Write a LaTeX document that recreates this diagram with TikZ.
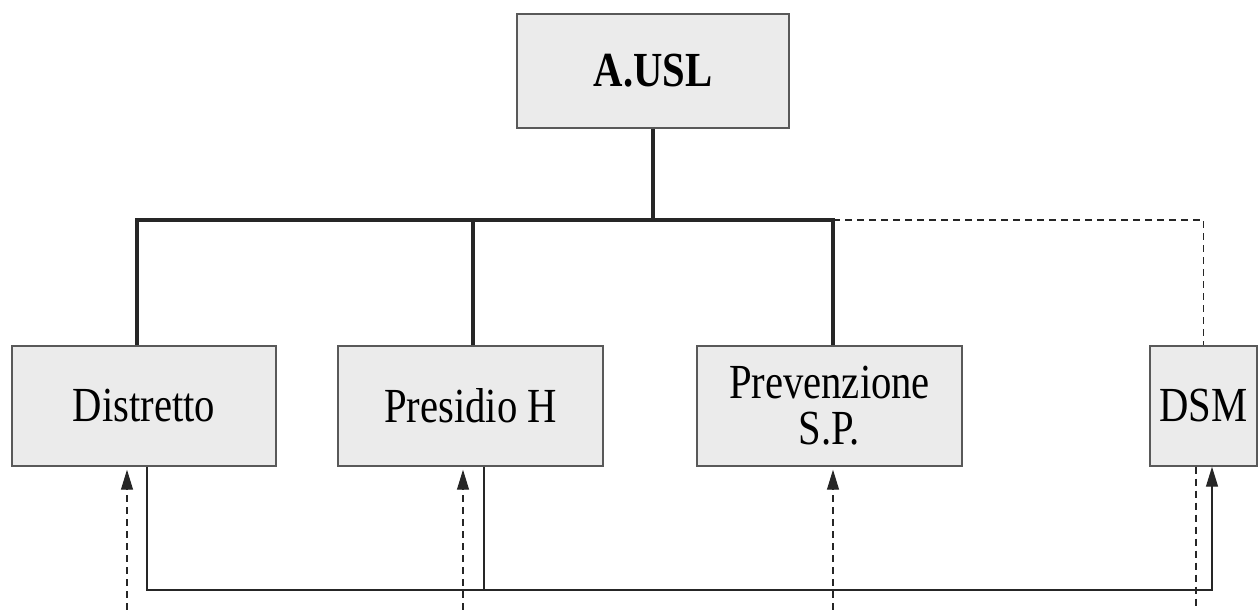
\documentclass[tikz,border=0pt]{standalone}
\usepackage{fontspec}
\setmainfont[FakeStretch=0.83]{Liberation Serif}
\usetikzlibrary{arrows.meta}
\tikzset{
  ente/.style={draw=black!65, line width=1.5pt, fill=black!8, minimum height=120pt, inner sep=0pt, align=center, font=\fontsize{49}{46}\selectfont},
  gerarchia/.style={line width=4pt, black!85},
  funzionale/.style={line width=1.4pt, black!85},
  tratteggio/.style={line width=1.2pt, black!85, dash pattern=on 7pt off 5pt},
  punta/.style={-{Triangle[length=20pt,width=12pt]}}
}
\begin{document}
\begin{tikzpicture}[x=1pt,y=1pt]
\useasboundingbox (0,0) rectangle (1258,610);
\begin{scope}
\node[ente, minimum width=272pt, minimum height=114pt, font=\bfseries\fontsize{49}{46}\selectfont] (ausl) at (653,539) {A.USL};
\node[ente, minimum width=264pt] (distretto) at (144,204) {Distretto};
\node[ente, minimum width=265pt] (presidio) at (470.5,204) {Presidio H};
\node[ente, minimum width=265pt] (prevenzione) at (829.5,204) {Prevenzione\\S.P.};
\node[ente, minimum width=107pt] (dsm) at (1203.5,204) {DSM};
\coordinate (bus) at (653,390);
\coordinate (fondo) at (0,20);
\coordinate (base) at (0,0);
\end{scope}
\begin{scope}
\draw[gerarchia] (ausl.south) -- (bus);
\draw[gerarchia] ([xshift=-7pt]distretto.north) |- (bus) -| ([xshift=3.5pt]prevenzione.north);
\draw[gerarchia] ([xshift=2.5pt]presidio.north) -- ([xshift=2.5pt]presidio.north |- bus);
\draw[tratteggio] ([xshift=3.5pt]prevenzione.north |- bus) -| (dsm.north);
\end{scope}
\begin{scope}
\draw[funzionale, punta] ([xshift=3pt]distretto.south) |- ([xshift=8.5pt]dsm.south |- fondo) -- ([xshift=8.5pt]dsm.south);
\draw[funzionale] ([xshift=13.5pt]presidio.south) -- ([xshift=13.5pt]presidio.south |- fondo);
\draw[tratteggio, punta] ([xshift=-17pt]distretto.south |- base) -- ([xshift=-17pt,yshift=-3pt]distretto.south);
\draw[tratteggio, punta] ([xshift=-7.5pt]presidio.south |- base) -- ([xshift=-7.5pt,yshift=-3pt]presidio.south);
\draw[tratteggio, punta] ([xshift=3.5pt]prevenzione.south |- base) -- ([xshift=3.5pt,yshift=-3pt]prevenzione.south);
\draw[tratteggio] ([xshift=-7.5pt]dsm.south) -- ([xshift=-7.5pt]dsm.south |- base);
\end{scope}
\end{tikzpicture}
\end{document}
